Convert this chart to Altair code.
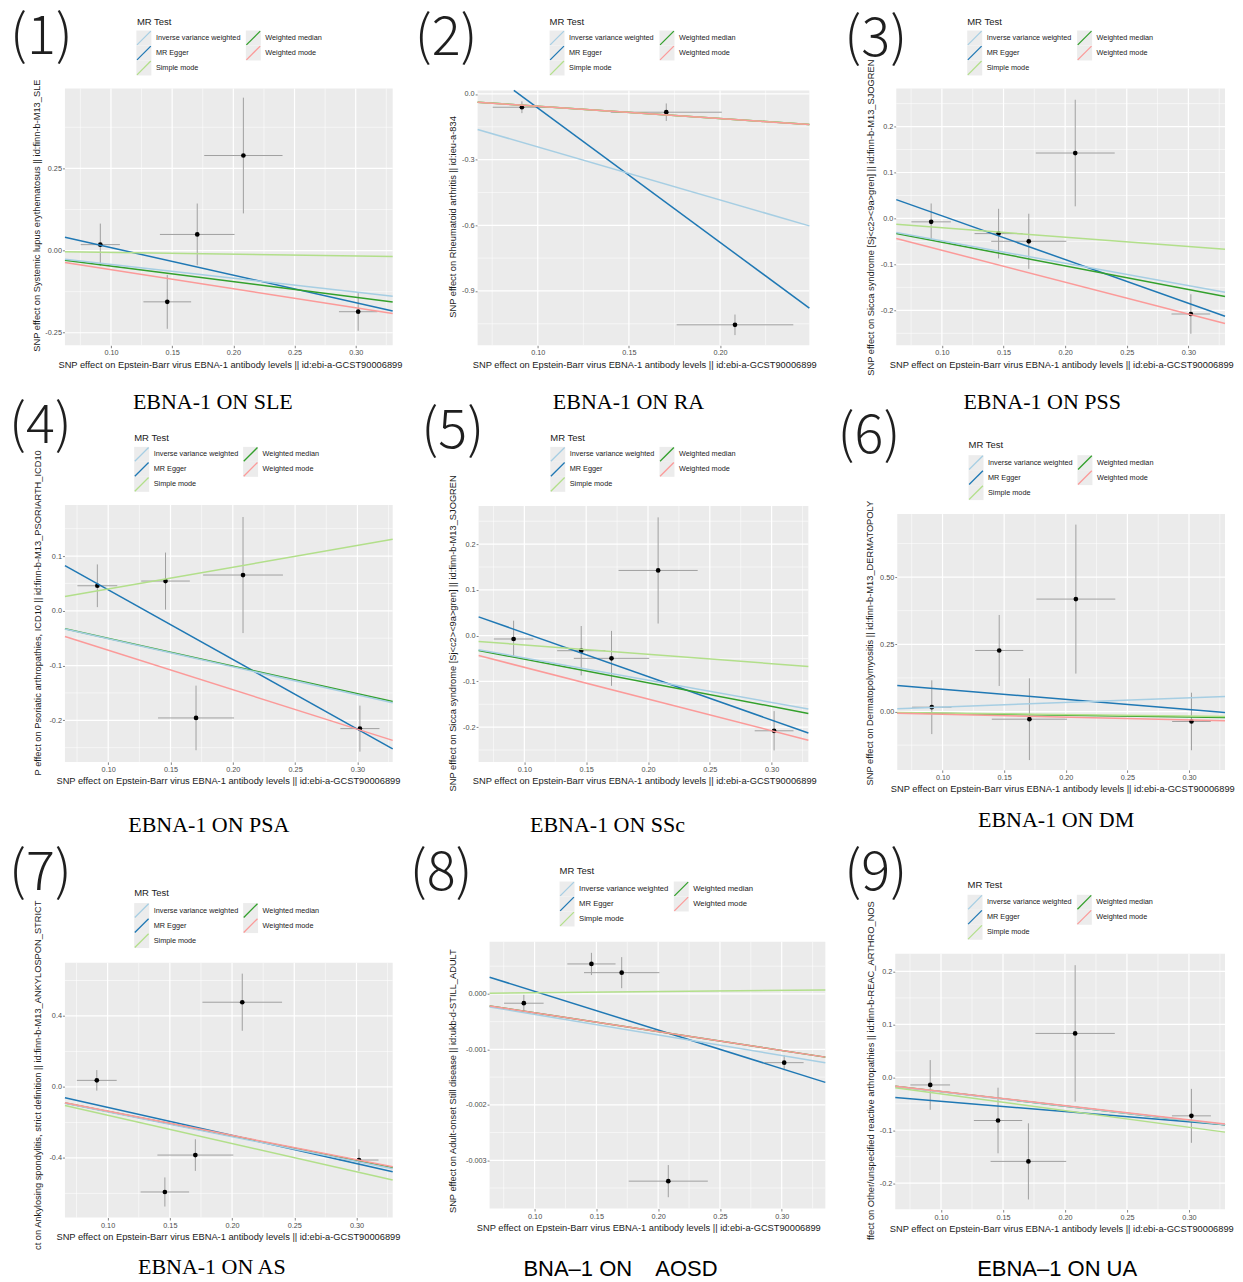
import math
import altair as alt
import pandas as pd

SANS = "Liberation Sans"
SERIF = "Liberation Serif"
LABEL_FONT = "Noto Sans CJK SC"

METHODS = ["Inverse variance weighted", "MR Egger", "Simple mode",
           "Weighted median", "Weighted mode"]
COLORS = ["#a6cee3", "#1f78b4", "#b2df8a", "#33a02c", "#fb9a99"]
DRAW_ORDER = ["MR Egger", "Weighted median", "Inverse variance weighted",
              "Simple mode", "Weighted mode"]
LEGEND_COL = [0, 0, 0, 1, 1]
LEGEND_ROW = [0, 1, 2, 0, 1]

X_TITLE = "SNP effect on Epstein-Barr virus EBNA-1 antibody levels || id:ebi-a-GCST90006899"

# exposure: SNP effects on EBNA-1 antibody levels and their SEs
exp_beta = [0.0913, 0.1460, 0.1705, 0.2082, 0.3020]
exp_se = [0.0160, 0.0195, 0.0305, 0.0320, 0.0157]

# (1) SLE
sle_beta = [0.018, -0.156, 0.049, 0.289, -0.186]
sle_se = [0.064, 0.082, 0.094, 0.176, 0.058]
sle_slope = [-0.42, -0.837, -0.055, -0.473, -0.58]
sle_icpt = [0.0, 0.0925, 0.0, 0.0, 0.0]

# (2) RA  (three SNPs only)
ra_snps = [0, 2, 3]
ra_beta = [-0.0607, -0.0834, -1.0547]
ra_se = [0.027, 0.040, 0.047]
ra_slope = [-2.42, -6.135, -0.56, -0.56, -0.562]
ra_icpt = [0.0, 0.549, 0.0, 0.0, 0.0]

# (3) PSS and (5) SSc  (same outcome data)
pss_beta = [-0.0074, -0.033, -0.0497, 0.1424, -0.208]
pss_se = [0.040, 0.054, 0.060, 0.116, 0.043]
pss_slope = [-0.487, -0.952, -0.204, -0.516, -0.693]
pss_icpt = [0.0, 0.101, 0.0, 0.0, 0.0]

# (4) PSA
psa_beta = [0.0457, 0.0543, -0.1957, 0.0653, -0.2152]
psa_se = [0.039, 0.052, 0.059, 0.106, 0.042]
psa_slope = [-0.512, -1.272, 0.398, -0.505, -0.721]
psa_icpt = [0.0, 0.1655, 0.0, 0.0, 0.0]

# (6) DM
dm_beta = [0.0161, 0.227, -0.0285, 0.418, -0.037]
dm_se = [0.10, 0.132, 0.152, 0.277, 0.107]
dm_slope = [0.17, -0.378, -0.055, -0.068, -0.105]
dm_icpt = [0.0, 0.1206, 0.0, 0.0, 0.0]

# (7) AS
as_beta = [0.0371, -0.592, -0.384, 0.4775, -0.412]
as_se = [0.058, 0.082, 0.089, 0.161, 0.061]
as_slope = [-1.40, -1.584, -1.595, -1.38, -1.365]
as_icpt = [0.0, 0.0436, 0.0, 0.0, 0.0]

# (8) AOSD
aosd_beta = [-0.000168, 0.00054, 0.000383, -0.003376, -0.00124]
aosd_se = [0.00015, 0.0002, 0.00028, 0.00029, 0.000135]
aosd_slope = [-0.0037, -0.006975, 0.00021, -0.0034, -0.0034]
aosd_icpt = [0.0, 0.000744, 0.0, 0.0, 0.0]

# (9) UA
ua_beta = [-0.0145, -0.0817, -0.159, 0.0829, -0.0729]
ua_se = [0.047, 0.062, 0.072, 0.129, 0.051]
ua_slope = [-0.273, -0.193, -0.315, -0.272, -0.269]
ua_icpt = [0.0, -0.0262, 0.0, 0.0, 0.0]

ALL = [0, 1, 2, 3, 4]

# layout (page pixels): plot box, header element positions, caption position
PANELS = [
    dict(num="(1)", caption="EBNA-1 ON SLE", cap_font=SERIF, cap=(213, 409),
         ytitle="SNP effect on Systemic lupus erythematosus || id:finn-b-M13_SLE",
         snps=ALL, beta=sle_beta, se=sle_se, slope=sle_slope, icpt=sle_icpt,
         xdom=[0.0624, 0.3302], ydom=[-0.288, 0.493], ystep=0.25, yfmt=".2f",
         left=65, top=88, w=328, h=257,
         lab=(10, 54), mr=(137, 24), kx=(144, 253.5), ky=37.5, lfs=7.3,
         ytx=-25.3, yty=263, xtx=-7),
    dict(num="(2)", caption="EBNA-1 ON RA", cap_font=SERIF, cap=(629, 409),
         ytitle="SNP effect on Rheumatoid arthritis || id:ieu-a-834",
         snps=ra_snps, beta=ra_beta, se=ra_se, slope=ra_slope, icpt=ra_icpt,
         xdom=[0.067, 0.249], ydom=[-1.148, 0.016], ystep=0.3, yfmt=".1f",
         left=478, top=90, w=332, h=255,
         lab=(415, 54.5), mr=(550, 24), kx=(557.5, 667.5), ky=37.5, lfs=7.3,
         ytx=-21.7, yty=227, xtx=-5.3),
    dict(num="(3)", caption="EBNA-1 ON PSS", cap_font=SERIF, cap=(1043, 409),
         ytitle="SNP effect on Sicca syndrome [Sj<c2><9a>gren] || id:finn-b-M13_SJOGREN",
         snps=ALL, beta=pss_beta, se=pss_se, slope=pss_slope, icpt=pss_icpt,
         xdom=[0.063, 0.3297], ydom=[-0.276, 0.283], ystep=0.1, yfmt=".1f",
         left=897, top=88, w=329, h=257,
         lab=(845, 56), mr=(968, 24), kx=(975.5, 1085.5), ky=37.5, lfs=7.3,
         ytx=-22.3, yty=287, xtx=-7),
    dict(num="(4)", caption="EBNA-1 ON PSA", cap_font=SERIF, cap=(209, 831.7),
         ytitle="P effect on Psoriatic arthropathies, ICD10 || id:finn-b-M13_PSORIARTH_ICD10",
         snps=ALL, beta=psa_beta, se=psa_se, slope=psa_slope, icpt=psa_icpt,
         xdom=[0.0653, 0.3283], ydom=[-0.276, 0.193], ystep=0.1, yfmt=".1f",
         left=65, top=505, w=328, h=257,
         lab=(9, 443), mr=(134.3, 440.7), kx=(141.8, 250.8), ky=454.2, lfs=7.3,
         ytx=-24.3, yty=270, xtx=-9),
    dict(num="(5)", caption="EBNA-1 ON SSc", cap_font=SERIF, cap=(608, 831.7),
         ytitle="SNP effect on Sicca syndrome [Sj<c2><9a>gren] || id:finn-b-M13_SJOGREN",
         snps=ALL, beta=pss_beta, se=pss_se, slope=pss_slope, icpt=pss_icpt,
         xdom=[0.063, 0.3297], ydom=[-0.276, 0.283], ystep=0.1, yfmt=".1f",
         left=479, top=506, w=330, h=256,
         lab=(421.7, 448), mr=(550.7, 440.7), kx=(558.2, 667.5), ky=454.2, lfs=7.3,
         ytx=-23.3, yty=285, xtx=-6.3),
    dict(num="(6)", caption="EBNA-1 ON DM", cap_font=SERIF, cap=(1057, 827),
         ytitle="SNP effect on Dermatopolymyositis || id:finn-b-M13_DERMATOPOLY",
         snps=ALL, beta=dm_beta, se=dm_se, slope=dm_slope, icpt=dm_icpt,
         xdom=[0.0633, 0.3292], ydom=[-0.217, 0.734], ystep=0.25, yfmt=".2f",
         left=898, top=514, w=328, h=256,
         lab=(838.3, 453.3), mr=(969.3, 448.3), kx=(976.8, 1085.8), ky=462.5, lfs=7.3,
         ytx=-24.3, yty=271, xtx=-7),
    dict(num="(7)", caption="EBNA-1 ON AS", cap_font=SERIF, cap=(212, 1275),
         ytitle="ct on Ankylosing spondylitis, strict definition || id:finn-b-M13_ANKYLOSPON_STRICT",
         snps=ALL, beta=as_beta, se=as_se, slope=as_slope, icpt=as_icpt,
         xdom=[0.0657, 0.3291], ydom=[-0.736, 0.70], ystep=0.4, yfmt=".1f",
         left=65, top=963, w=328, h=255,
         lab=(9, 890), mr=(134.3, 896.7), kx=(141.8, 250.8), ky=910.8, lfs=7.3,
         ytx=-24.7, yty=287, xtx=-9),
    dict(num="(8)", caption="BNA\u20131 ON\u00a0\u00a0\u00a0 AOSD", cap_font=SANS, cap=(621, 1277),
         ytitle="SNP effect on Adult-onset Still disease || id:ukb-d-STILL_ADULT",
         snps=ALL, beta=aosd_beta, se=aosd_se, slope=aosd_slope, icpt=aosd_icpt,
         xdom=[0.0636, 0.3353], ydom=[-0.00387, 0.00094], ystep=0.001, yfmt=".3f",
         left=490, top=942, w=336, h=267,
         lab=(410, 890), mr=(560, 874.3), kx=(567.5, 681.8), ky=889.2, lfs=7.7,
         ytx=-33.7, yty=271, xtx=-13.3),
    dict(num="(9)", caption="EBNA\u20131 ON UA", cap_font=SANS, cap=(1058, 1277),
         ytitle="ffect on Other/unspecified reactive arthropathies || id:finn-b-REAC_ARTHRO_NOS",
         snps=ALL, beta=ua_beta, se=ua_se, slope=ua_slope, icpt=ua_icpt,
         xdom=[0.0631, 0.3291], ydom=[-0.25, 0.2335], ystep=0.1, yfmt=".1f",
         left=896, top=954, w=330, h=256,
         lab=(845, 890), mr=(968.3, 888.3), kx=(975.8, 1085.2), ky=902.5, lfs=7.3,
         ytx=-21.3, yty=286, xtx=-6),
]

# grid cells (page pixels)
COL_L = [8, 400, 830]
COL_W = [392, 430, 405]
ROW_T = [8, 392, 815]
ROW_H = [384, 423, 467]

GRID_BG = "#ebebeb"
ERR_COLOR = "#a0a0a0"
KEY_BG = "#ececec"
ROW_PITCH = 15
AXIS_TITLE_SIZE = 9.3


def tick_values(lo, hi, step):
    half = step / 2
    k0 = math.ceil(lo / half - 1e-9)
    k1 = math.floor(hi / half + 1e-9)
    return [round(k * half, 10) + 0.0 for k in range(k0, k1 + 1)]


def is_major(v, step):
    return abs(v / step - round(v / step)) < 0.01


def make_axis(vals, step, fmt, title, **extra):
    test = f"abs(datum.value / {step} - round(datum.value / {step})) < 0.01"
    return alt.Axis(
        values=vals,
        labelExpr=f"{test} ? replace(format(datum.value, '{fmt}'), '\u2212', '-') : ''",
        labelOverlap=False, grid=False, domain=False,
        ticks=True, tickColor="#333333", tickWidth=0.6, tickSize=2.5,
        tickOpacity={"condition": {"test": test, "value": 1}, "value": 0},
        labelFont=SANS, labelFontSize=7.3, labelColor="#4d4d4d", labelPadding=1,
        title=title, titleFont=SANS, titleFontSize=AXIS_TITLE_SIZE, titleFontWeight="normal",
        titleColor="#1a1a1a", titleAlign="left", titleBaseline="alphabetic", **extra)


def clipped_segment(a, b, xdom, ydom):
    lo, hi = xdom
    if b != 0:
        xa, xb = (ydom[0] - a) / b, (ydom[1] - a) / b
        lo, hi = max(lo, min(xa, xb)), min(hi, max(xa, xb))
    return [lo, hi], [a + b * lo, a + b * hi]


def data_group(p, W, H, ox, oy):
    xdom, ydom = p["xdom"], p["ydom"]
    xs = alt.Scale(domain=xdom, range=[ox, ox + p["w"]], nice=False, zero=False)
    ys = alt.Scale(domain=ydom, range=[oy + p["h"], oy], nice=False, zero=False)
    xt = tick_values(xdom[0], xdom[1], 0.05)
    yt = tick_values(ydom[0], ydom[1], p["ystep"])
    xa = make_axis(xt, 0.05, ".2f", X_TITLE, offset=-(H - oy - p["h"]),
                   titleX=ox + p["xtx"], titleY=22)
    ya = make_axis(yt, p["ystep"], p["yfmt"], p["ytitle"], offset=-ox,
                   titleX=p["ytx"], titleY=oy + p["yty"], titleAngle=270)

    def X(f):
        return alt.X(f, type="quantitative", scale=xs, axis=xa)

    def Y(f):
        return alt.Y(f, type="quantitative", scale=ys, axis=ya)

    box = pd.DataFrame({"x0": [xdom[0]], "x1": [xdom[1]], "y0": [ydom[0]], "y1": [ydom[1]]})
    bg = alt.Chart(box).mark_rect(color=GRID_BG).encode(x=X("x0"), x2="x1", y=Y("y0"), y2="y1")

    grid = []
    for major, wd in ((False, 0.55), (True, 1.2)):
        gv = pd.DataFrame({"v": [v for v in xt if is_major(v, 0.05) == major],
                           "y0": ydom[0], "y1": ydom[1]})
        gh = pd.DataFrame({"v": [v for v in yt if is_major(v, p["ystep"]) == major],
                           "x0": xdom[0], "x1": xdom[1]})
        grid.append(alt.Chart(gv).mark_rule(color="white", strokeWidth=wd).encode(
            x=X("v"), y=Y("y0"), y2="y1"))
        grid.append(alt.Chart(gh).mark_rule(color="white", strokeWidth=wd).encode(
            y=Y("v"), x=X("x0"), x2="x1"))

    bx = [exp_beta[i] for i in p["snps"]]
    bxs = [exp_se[i] for i in p["snps"]]
    pts = pd.DataFrame({
        "bx": bx,
        "xlo": [a - s for a, s in zip(bx, bxs)],
        "xhi": [a + s for a, s in zip(bx, bxs)],
        "by": p["beta"],
        "ylo": [a - s for a, s in zip(p["beta"], p["se"])],
        "yhi": [a + s for a, s in zip(p["beta"], p["se"])],
    })
    vbar = alt.Chart(pts).mark_rule(color=ERR_COLOR, strokeWidth=1).encode(
        x=X("bx"), y=Y("ylo"), y2="yhi")
    hbar = alt.Chart(pts).mark_rule(color=ERR_COLOR, strokeWidth=1).encode(
        x=X("xlo"), x2="xhi", y=Y("by"))
    dots = alt.Chart(pts).mark_circle(size=22, color="black", opacity=1).encode(
        x=X("bx"), y=Y("by"))
    lines = []
    for m in DRAW_ORDER:
        i = METHODS.index(m)
        sx, sy = clipped_segment(p["icpt"][i], p["slope"][i], xdom, ydom)
        df = pd.DataFrame({"x": sx, "y": sy})
        lines.append(alt.Chart(df).mark_line(color=COLORS[i], strokeWidth=1.5).encode(
            x=X("x"), y=Y("y")))
    return alt.layer(bg, *grid, vbar, hbar, dots, *lines)


def annotation_group(p, cl, ct):
    leg = pd.DataFrame({"method": METHODS, "col": LEGEND_COL, "row": LEGEND_ROW})
    ky = p["ky"] - ct
    hx = alt.X("col:Q", scale=alt.Scale(domain=[0, 1], range=[p["kx"][0] - cl, p["kx"][1] - cl],
                                        nice=False, zero=False), axis=None)
    hy = alt.Y("row:Q", scale=alt.Scale(domain=[0, 2], range=[ky, ky + 2 * ROW_PITCH],
                                        nice=False, zero=False), axis=None)
    keys = alt.Chart(leg).mark_square(size=ROW_PITCH * ROW_PITCH, color=KEY_BG, opacity=1).encode(
        x=hx, y=hy)
    diag = alt.Chart(leg).mark_point(shape="M-1,1L1,-1", size=190, filled=False, strokeWidth=1.3,
                                     opacity=1).encode(
        x=hx, y=hy,
        color=alt.Color("method:N", scale=alt.Scale(domain=METHODS, range=COLORS), legend=None))
    texts = alt.Chart(leg).mark_text(align="left", baseline="middle", dx=12, fontSize=p["lfs"],
                                     font=SANS, color="#1a1a1a").encode(
        x=hx, y=hy, text="method:N")
    mrt = alt.Chart(pd.DataFrame({"t": ["MR Test"]})).mark_text(
        align="left", baseline="alphabetic", fontSize=9.5, font=SANS, color="#1a1a1a").encode(
        x=alt.value(p["mr"][0] - cl), y=alt.value(p["mr"][1] - ct), text="t:N")
    lab = alt.Chart(pd.DataFrame({"t": [p["num"]]})).mark_text(
        align="left", baseline="alphabetic", fontSize=54, font=LABEL_FONT, fontWeight=300,
        color="#1f1f1f", clip=True).encode(
        x=alt.value(p["lab"][0] - cl), y=alt.value(p["lab"][1] - ct), text="t:N")
    cap = alt.Chart(pd.DataFrame({"t": [p["caption"]]})).mark_text(
        align="center", baseline="alphabetic", fontSize=22, font=p["cap_font"],
        color="black").encode(
        x=alt.value(p["cap"][0] - cl), y=alt.value(p["cap"][1] - ct), text="t:N")
    return alt.layer(keys, diag, texts, mrt, lab, cap)


def make_panel(idx, p):
    r, c = divmod(idx, 3)
    cl, ct, W, H = COL_L[c], ROW_T[r], COL_W[c], ROW_H[r]
    ox, oy = p["left"] - cl, p["top"] - ct
    return alt.layer(data_group(p, W, H, ox, oy), annotation_group(p, cl, ct)).resolve_scale(
        x="independent", y="independent").properties(width=W, height=H)


panels = [make_panel(i, p) for i, p in enumerate(PANELS)]
chart = alt.concat(*panels, columns=3, spacing=0, bounds="flush", align="each",
                   padding=0, background="white").configure_view(strokeWidth=0)

chart.save("out.html", embed_options={"renderer": "svg", "actions": False})
